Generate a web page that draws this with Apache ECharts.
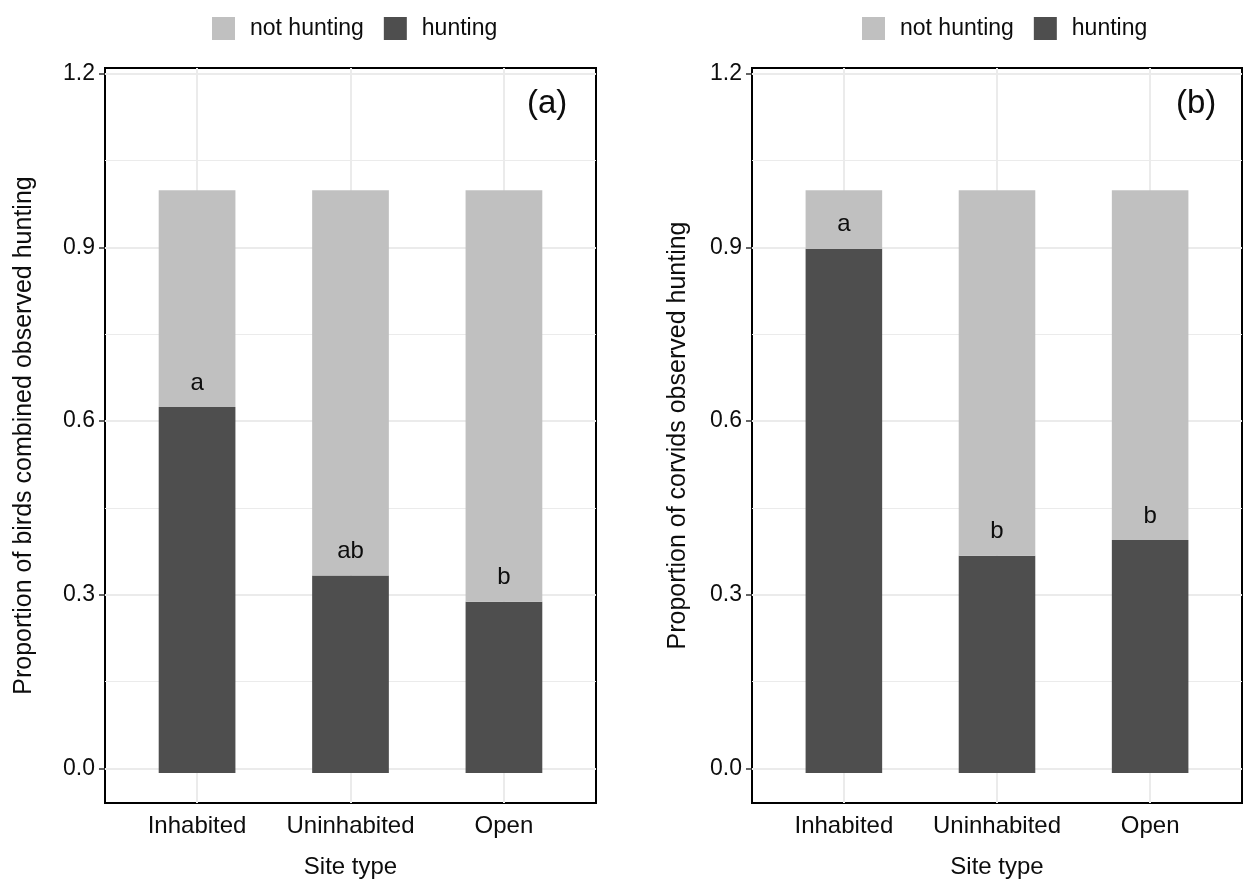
<!DOCTYPE html>
<html>
<head>
<meta charset="utf-8">
<script src="https://cdn.jsdelivr.net/npm/echarts@6/dist/echarts.min.js"></script>
<style>
html,body{margin:0;padding:0;background:#fff;}
#chart{width:1244px;height:884px;}
</style>
</head>
<body>
<div id="chart"></div>
<script>
const categories = ['Inhabited', 'Uninhabited', 'Open'];
const huntingA = [0.628, 0.339, 0.294];
const notHuntingA = [0.372, 0.661, 0.706];
const huntingB = [0.900, 0.373, 0.400];
const notHuntingB = [0.100, 0.627, 0.600];
const lettersA = ['a', 'ab', 'b'];
const lettersB = ['a', 'b', 'b'];
const yTicks = [0, 0.3, 0.6, 0.9, 1.2];
const yMinorTicks = [0.15, 0.45, 0.75, 1.05];
const xTicks = [1, 2, 3];
const yTitleA = 'Proportion of birds combined observed hunting';
const yTitleB = 'Proportion of corvids observed hunting';
const xTitle = 'Site type';
const panelTags = ['(a)', '(b)'];

const FONT = 'Liberation Sans';
const TXT = '#0d0d0d';
const LIGHT = '#c0c0c0';
const DARK = '#4e4e4e';
const GRIDC = '#ebebeb';
const YMIN = -0.06, YMAX = 1.21;
const XMIN = 0.4, XMAX = 3.6;

const outer = [
  {left: 105, top: 68, width: 491, height: 740},
  {left: 752, top: 68, width: 490, height: 740}
];
// inner grid holding the category bands (bands of 1 unit centred on 1..3)
const inner = outer.map(g => {
  const u = g.width / (XMAX - XMIN);
  return {left: g.left + (0.5 - XMIN) * u, top: g.top, width: 3 * u, height: g.height};
});

function legendAt(left) {
  return {left: left, top: 17, padding: 0, data: ['not hunting', 'hunting'], icon: 'rect',
    itemWidth: 23, itemHeight: 23, itemGap: 20, selectedMode: false,
    textStyle: {fontSize: 23, color: TXT, fontFamily: FONT, padding: [0, 0, 0, 10]}};
}

const option = {
  animation: false,
  backgroundColor: '#fff',
  textStyle: {fontFamily: FONT},
  title: [
    {text: panelTags[0], left: 527, top: 87, padding: 0, textStyle: {fontSize: 33, fontWeight: 'normal', color: TXT, fontFamily: FONT}},
    {text: panelTags[1], left: 1176, top: 87, padding: 0, textStyle: {fontSize: 33, fontWeight: 'normal', color: TXT, fontFamily: FONT}}
  ],
  legend: [legendAt(212), legendAt(862)],
  grid: [
    Object.assign({}, outer[0], {show: true, borderColor: '#000', borderWidth: 2, backgroundColor: '#fff'}),
    Object.assign({}, outer[1], {show: true, borderColor: '#000', borderWidth: 2, backgroundColor: '#fff'}),
    Object.assign({}, inner[0], {show: false}),
    Object.assign({}, inner[1], {show: false})
  ],
  xAxis: [0, 1].map(i => ({
    type: 'value', gridIndex: i, min: XMIN, max: XMAX,
    name: xTitle, nameLocation: 'middle', nameGap: 52,
    nameTextStyle: {fontSize: 24, color: TXT, fontFamily: FONT},
    axisLine: {show: false},
    axisTick: {show: true, customValues: xTicks, length: 6, lineStyle: {color: '#333', width: 1.5}},
    axisLabel: {customValues: xTicks, margin: 11, fontSize: 24, color: TXT, fontFamily: FONT,
      formatter: v => categories[Math.round(v) - 1] || ''},
    splitLine: {show: false}
  })).concat([0, 1].map(i => ({
    type: 'category', gridIndex: 2 + i, data: categories, show: false
  }))),
  yAxis: [0, 1].map(i => ({
    type: 'value', gridIndex: i, min: YMIN, max: YMAX,
    name: i === 0 ? yTitleA : yTitleB, nameLocation: 'middle', nameGap: i === 0 ? 68 : 61,
    nameTextStyle: {fontSize: 25, color: TXT, fontFamily: FONT},
    axisLine: {show: false},
    axisTick: {show: true, customValues: yTicks, length: 6, lineStyle: {color: '#333', width: 1.5}},
    axisLabel: {customValues: yTicks, margin: 10, fontSize: 23, color: TXT, fontFamily: FONT,
      formatter: v => v.toFixed(1)},
    splitLine: {show: false}
  })).concat([0, 1].map(i => ({
    type: 'value', gridIndex: 2 + i, min: YMIN, max: YMAX, show: false, splitLine: {show: false}
  }))),
  series: []
};

function gridMarks() {
  const data = [];
  yMinorTicks.forEach(v => data.push({yAxis: v, lineStyle: {color: GRIDC, width: 1.2, type: 'solid'}}));
  yTicks.forEach(v => data.push({yAxis: v, lineStyle: {color: GRIDC, width: 2, type: 'solid'}}));
  xTicks.forEach(v => data.push({xAxis: v, lineStyle: {color: GRIDC, width: 2, type: 'solid'}}));
  return {silent: true, z: 1, zlevel: 0, symbol: 'none', label: {show: false}, animation: false, data: data};
}

[[huntingA, notHuntingA, lettersA], [huntingB, notHuntingB, lettersB]].forEach((set, i) => {
  const [hunt, notHunt, letters] = set;
  // background grid lines in the panel coordinate system
  option.series.push({
    name: 'grid' + i, type: 'line', xAxisIndex: i, yAxisIndex: i, data: [],
    silent: true, z: 1, markLine: gridMarks()
  });
  option.series.push({
    name: 'hunting', type: 'bar', stack: 'p' + i, xAxisIndex: 2 + i, yAxisIndex: 2 + i,
    barWidth: '50%', itemStyle: {color: DARK},
    data: hunt, z: 6
  });
  option.series.push({
    name: 'not hunting', type: 'bar', stack: 'p' + i, xAxisIndex: 2 + i, yAxisIndex: 2 + i,
    barWidth: '50%', itemStyle: {color: LIGHT},
    data: notHunt, z: 6,
    label: {show: true, position: 'insideBottom', distance: 12, fontSize: 24, color: TXT, fontFamily: FONT,
      formatter: p => letters[p.dataIndex]}
  });
});

const chart = echarts.init(document.getElementById('chart'), null, {renderer: 'canvas'});
chart.setOption(option);
</script>
</body>
</html>
